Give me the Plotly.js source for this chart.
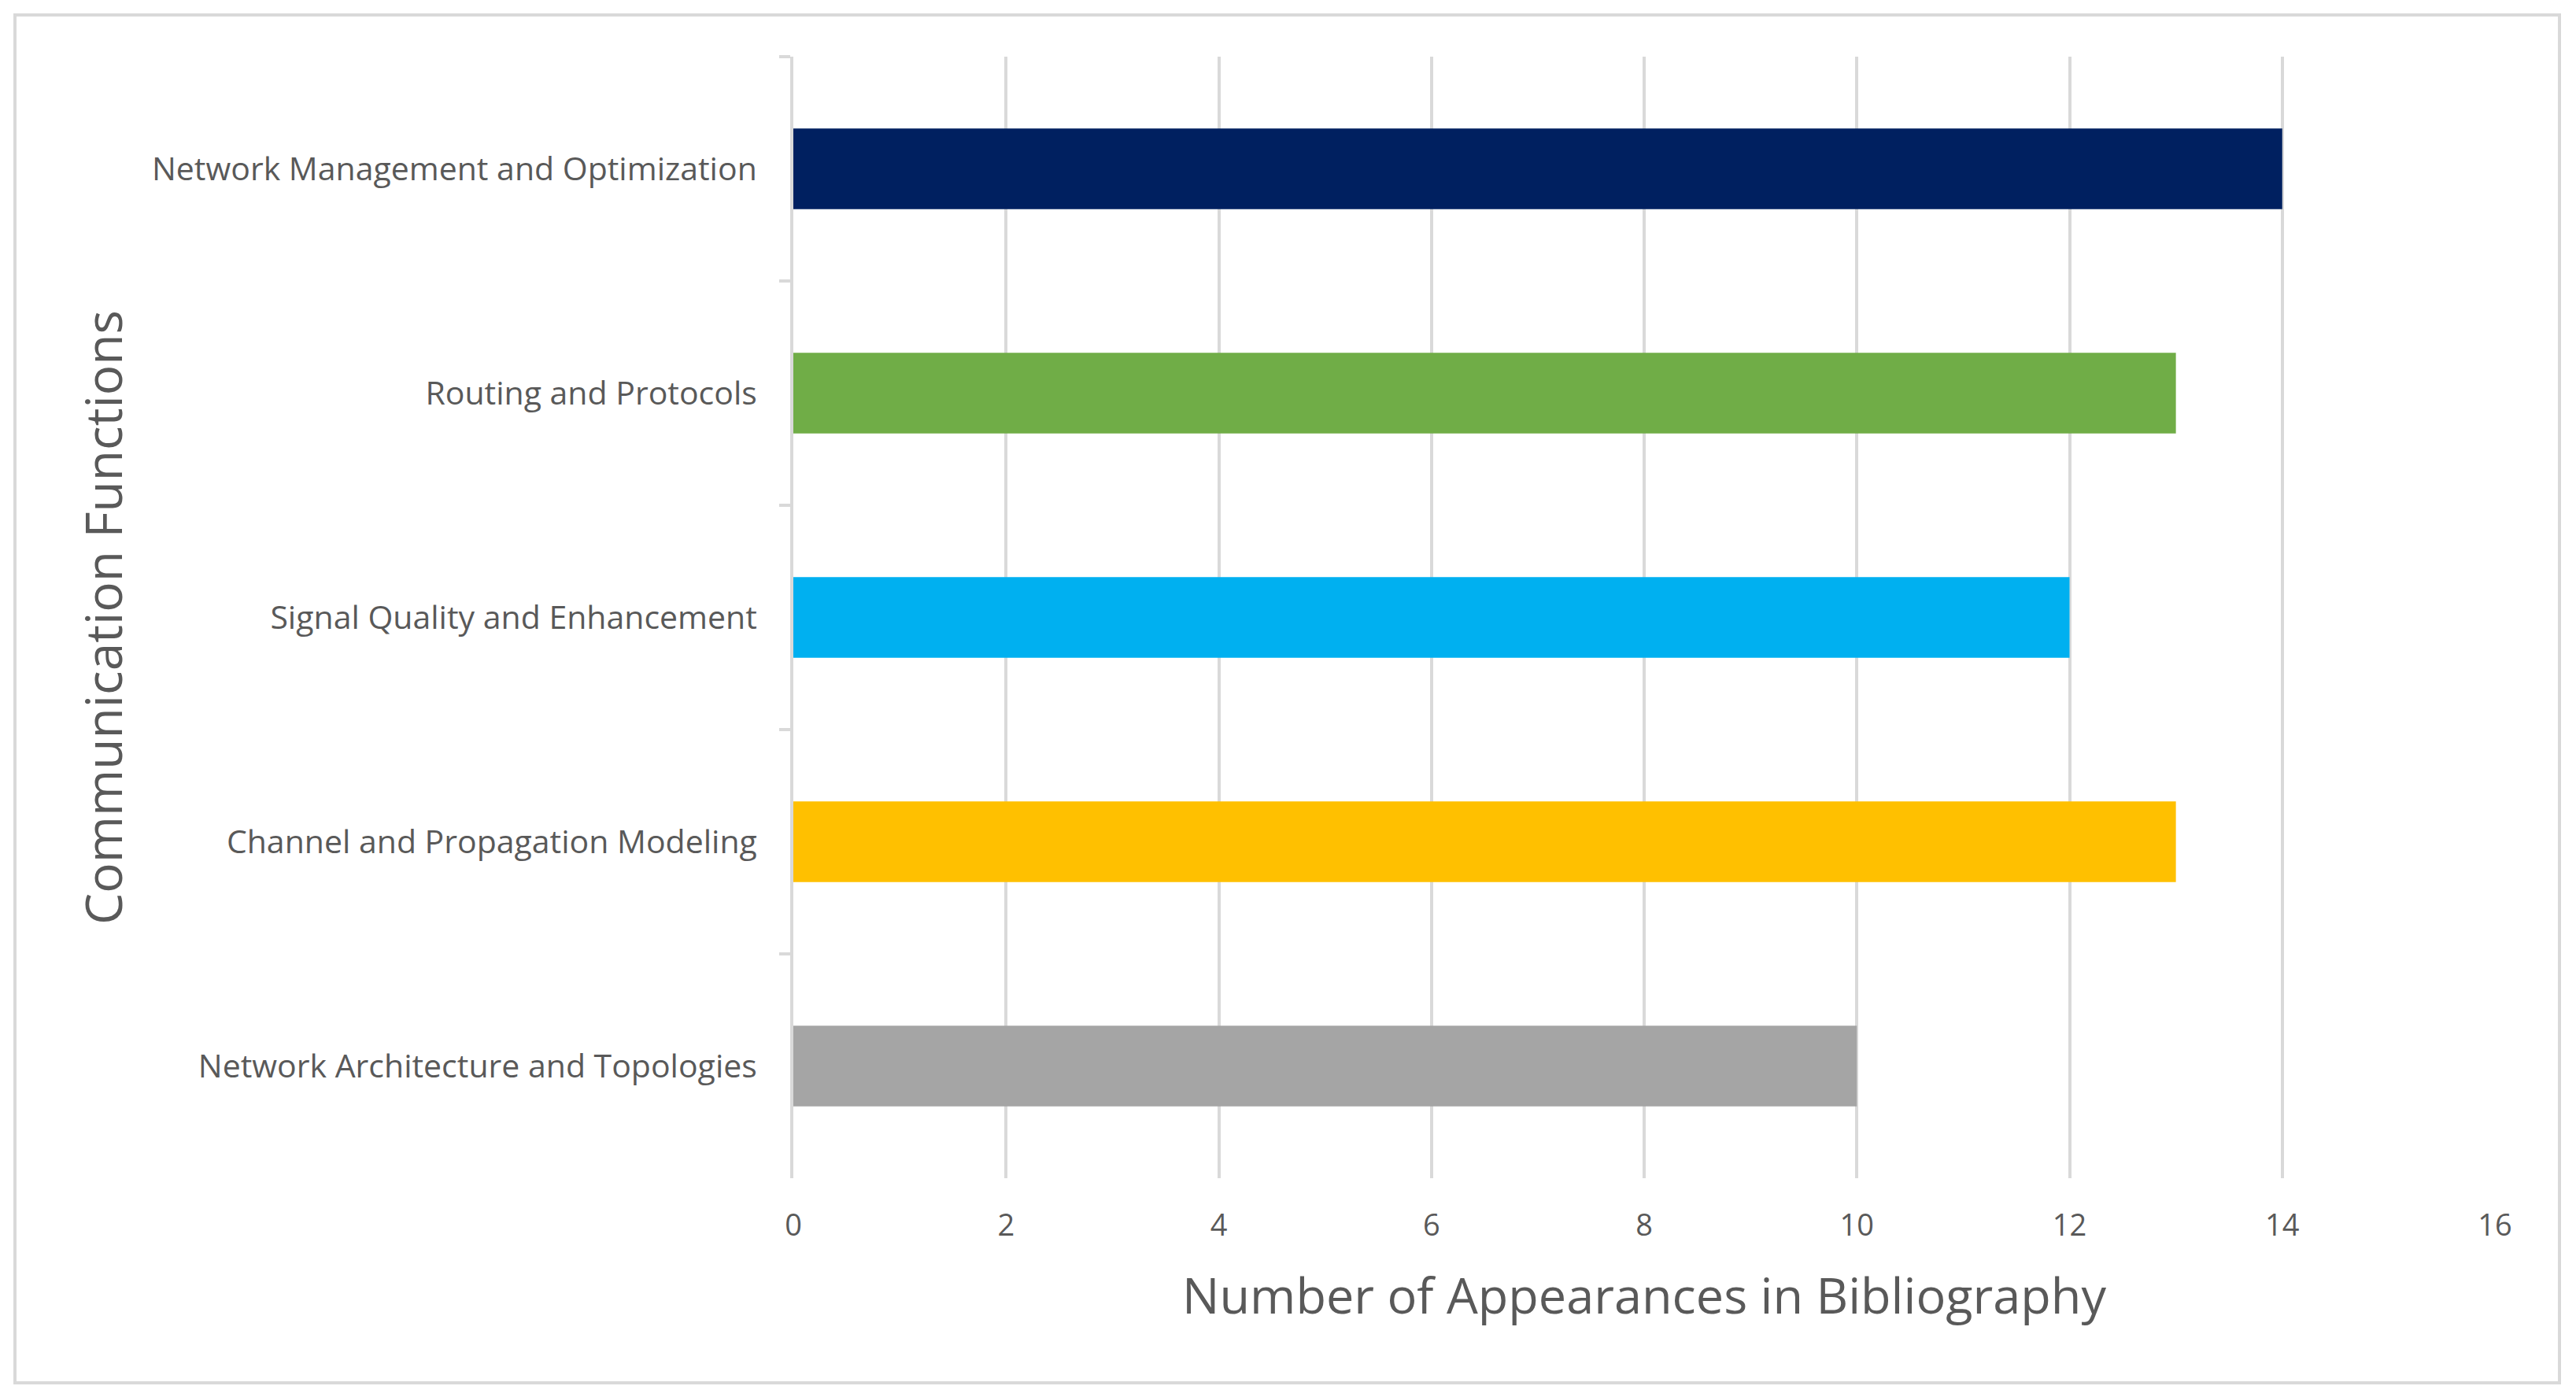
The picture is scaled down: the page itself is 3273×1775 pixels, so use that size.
<!DOCTYPE html>
<html>
<head>
<meta charset="utf-8">
<script src="https://cdn.plot.ly/plotly-3.0.1.min.js"></script>
<style>
  html, body { margin: 0; padding: 0; background: #ffffff; }
  #chart { width: 3273px; height: 1775px; }
  /* thin grey frame round the whole chart, like the Excel chart area */
  #frame {
    position: absolute; left: 17px; top: 17px; width: 3237px; height: 1742px;
    box-sizing: border-box; border: 4px solid #d9d9d9; pointer-events: none;
  }
</style>
</head>
<body>
<div id="chart"></div>
<div id="frame"></div>
<script>
// Top to bottom, as in the picture
const categories = [
    'Network Management and Optimization',
    'Routing and Protocols',
    'Signal Quality and Enhancement',
    'Channel and Propagation Modeling',
    'Network Architecture and Topologies',
];
const appearances = [14, 13, 12, 13, 10];
const barColors = ['#002060', '#70AD47', '#00B0F0', '#FFC000', '#A5A5A5'];
const xTickVals = [0, 2, 4, 6, 8, 10, 12, 14, 16];

const FONT = '"Open Sans", "Noto Sans", sans-serif';
const TEXT = '#595959';
const GRID = '#d9d9d9';

const trace = {
    type: 'bar',
    orientation: 'h',
    x: appearances,
    y: categories,
    marker: { color: barColors, line: { width: 0 } },
    hoverinfo: 'x+y',
    showlegend: false,
};

const layout = {
    width: 3273,
    height: 1775,
    paper_bgcolor: '#ffffff',
    plot_bgcolor: '#ffffff',
    font: { family: FONT, color: TEXT, size: 38 },
    margin: { l: 1008, r: 103, t: 72, b: 278, autoexpand: false },
    bargap: 0.64,
    xaxis: {
        range: [0, 16],
        tickvals: xTickVals,
        showgrid: true,
        gridcolor: GRID,
        gridwidth: 4,
        zeroline: false,
        showline: false,
        ticks: '',
        ticklabelstandoff: 34,
        tickfont: { size: 38, color: TEXT },
        title: { text: 'Number of Appearances in Bibliography', font: { size: 63, color: TEXT }, standoff: 44 },
        fixedrange: true,
    },
    yaxis: {
        type: 'category',
        autorange: 'reversed',
        showgrid: false,
        zeroline: false,
        showline: true,
        linecolor: GRID,
        linewidth: 4,
        ticks: 'outside',
        tickson: 'boundaries',
        ticklen: 14,
        tickwidth: 4,
        tickcolor: GRID,
        ticklabelstandoff: 34,
        tickfont: { size: 41, color: TEXT },
        title: { text: 'Communication Functions', font: { size: 64, color: TEXT }, standoff: 18 },
        fixedrange: true,
    },
};

Plotly.newPlot('chart', [trace], layout, { displayModeBar: false, responsive: false });
</script>
</body>
</html>
